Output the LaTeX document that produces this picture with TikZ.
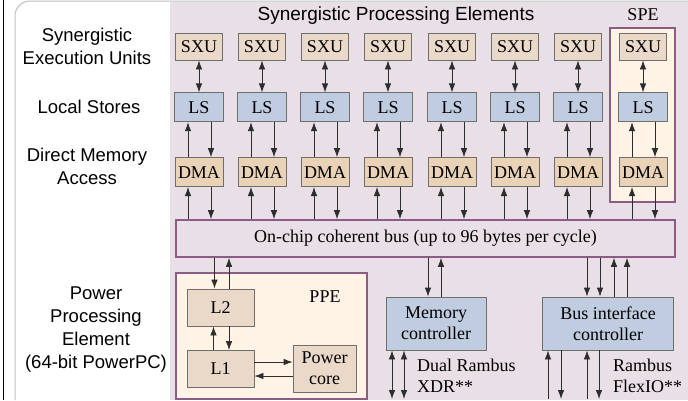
\documentclass[tikz,border=0pt]{standalone}
\usepackage{fontspec}
\setmainfont{Liberation Serif}
\setsansfont{Liberation Sans}
\usepackage{tikz}
\usetikzlibrary{arrows.meta, positioning}

\definecolor{bgpink}{RGB}{233,223,231}
\definecolor{cream}{RGB}{254,243,228}
\definecolor{frameplum}{RGB}{140,92,132}
\definecolor{boxgray}{RGB}{110,110,110}
\definecolor{linegray}{RGB}{45,45,45}
\definecolor{sxutan}{RGB}{234,216,200}
\definecolor{dmatan}{RGB}{233,210,182}
\definecolor{lsblue}{RGB}{192,204,224}

\newcommand\boxfont{\fontsize{18}{21}\selectfont}
\newcommand\sidefont{\sffamily\fontsize{18.5}{23}\selectfont}

\tikzset{
  unit/.style={draw=boxgray, rectangle, line width=0.8pt, font=\boxfont, inner sep=0pt},
  sxubox/.style={unit, fill=sxutan, minimum width=47pt, minimum height=27pt},
  lsbox/.style={unit, fill=lsblue, minimum width=49pt, minimum height=29pt},
  dmabox/.style={unit, fill=dmatan, minimum width=48pt, minimum height=29pt},
  ctrlbox/.style={unit, fill=lsblue, minimum height=53pt, align=center},
  cachebox/.style={unit, fill=sxutan, align=center},
  plumbox/.style={draw=frameplum, line width=1.6pt, rectangle, inner sep=0pt},
  arr/.style={-{Latex[length=9pt,width=6.5pt]}, line width=0.8pt, draw=linegray},
  darr/.style={{Latex[length=9pt,width=6.5pt]}-{Latex[length=9pt,width=6.5pt]}, line width=0.8pt, draw=linegray},
  side/.style={font=\sidefont, align=center},
  note/.style={font=\boxfont, align=left, anchor=west, inner sep=0pt}
}

\begin{document}
\begin{tikzpicture}[x=1pt, y=-1pt]
        \useasboundingbox (0,0) rectangle (688,400);
        % background and frame
        \fill[white] (0,0) rectangle (688,400);
        \fill[bgpink] (170,2) rectangle (688,400);
        \draw[black!25, line width=1pt, rounded corners=15pt] (15,400) -- (15,1) -- (688,1);
        \draw[line width=1.5pt] (3.5,0) -- (3.5,400);
        \coordinate (floor) at (0,399);

        % highlighted SPE and PPE frames
        \node (spe) [plumbox, fill=cream, minimum width=65pt, minimum height=174pt] at (642.5,115) {};
        \node (spelabel) [font=\boxfont] at (643,15) {SPE};
        \node (ppe) [plumbox, fill=cream, minimum width=191pt, minimum height=126pt] at (271.5,336) {};
        \node (ppelabel) [font=\boxfont] at (325,297) {PPE};

        \node (title) [font=\sffamily\fontsize{19}{23}\selectfont] at (396,16) {Synergistic Processing Elements};

        % side labels
        \node (sxulabel) [side] at (87,46.5) {Synergistic\\Execution Units};
        \node (lslabel) [side] at (89,106.5) {Local Stores};
        \node (dmalabel) [side] at (87,166.5) {Direct Memory\\Access};
        \node (ppeside) [side] at (96,329.5) {Power\\Processing\\Element\\(64-bit PowerPC)};

        % eight SPE columns
        \foreach \i/\x in {1/199,2/262,3/325,4/388,5/452,6/515,7/578,8/643} {
            \node (sxu\i) [sxubox] at (\x,46.5) {SXU};
            \node (ls\i) [lsbox, below=32pt of sxu\i] {LS};
            \node (dma\i) [dmabox, below=35pt of ls\i] {DMA};
        }

        \node (bus) [plumbox, fill=bgpink, minimum width=499pt, minimum height=37pt, font=\boxfont] at (425.5,238.5) {On-chip coherent bus (up to 96 bytes per cycle)};

        \foreach \i in {1,...,8} {
            \draw[darr] (sxu\i) -- (ls\i);
            \draw[arr] ([xshift=-11pt]dma\i.north) -- ([xshift=-11pt]ls\i.south);
            \draw[arr] ([xshift=12pt]ls\i.south) -- ([xshift=12pt]dma\i.north);
            \draw[arr] ([xshift=-11pt]dma\i.south |- bus.north) -- ([xshift=-11pt]dma\i.south);
            \draw[arr] ([xshift=12pt]dma\i.south) -- ([xshift=12pt]dma\i.south |- bus.north);
        }

        % PPE internals
        \node (l2) [cachebox, minimum width=67pt, minimum height=37pt] at (220.5,307.5) {L2};
        \node (l1) [cachebox, minimum width=67pt, minimum height=37pt] at (220.5,369) {L1};
        \node (core) [cachebox, minimum width=63pt, minimum height=47pt] at (324.5,368.5) {Power\\core};

        \draw[arr] ([xshift=-6pt]l2.north |- bus.south) -- ([xshift=-6pt]l2.north);
        \draw[arr] ([xshift=8.5pt]l2.north) -- ([xshift=8.5pt]l2.north |- bus.south);
        \draw[arr] ([xshift=-7pt]l1.north) -- ([xshift=-7pt]l2.south);
        \draw[arr] ([xshift=8.5pt]l2.south) -- ([xshift=8.5pt]l1.north);
        \draw[arr] ([yshift=7pt]l1.east) -- ([yshift=7pt]l1.east -| core.west);
        \draw[arr] ([yshift=-7pt]l1.east -| core.west) -- ([yshift=-7pt]l1.east);

        % controllers
        \node (mc) [ctrlbox, minimum width=100pt] at (436,323.5) {Memory\\controller};
        \node (bic) [ctrlbox, minimum width=131pt] at (608,323.5) {Bus interface\\controller};

        \draw[arr] ([xshift=-8pt]mc.north |- bus.south) -- ([xshift=-8pt]mc.north);
        \draw[arr] ([xshift=5pt]mc.north) -- ([xshift=5pt]mc.north |- bus.south);
        \draw[darr] ([xshift=-44pt]mc.south) -- ([xshift=-44pt]mc.south |- floor);
        \draw[darr] ([xshift=-32pt]mc.south) -- ([xshift=-32pt]mc.south |- floor);
        \node (xdr) [note] at (417,375.5) {Dual Rambus\\XDR**};

        \draw[arr] ([xshift=-21pt]bic.north |- bus.south) -- ([xshift=-21pt]bic.north);
        \draw[arr] ([xshift=-8pt]bic.north |- bus.south) -- ([xshift=-8pt]bic.north);
        \draw[arr] ([xshift=6pt]bic.north) -- ([xshift=6pt]bic.north |- bus.south);
        \draw[arr] ([xshift=19pt]bic.north) -- ([xshift=19pt]bic.north |- bus.south);
        \draw[arr] ([xshift=-60pt]bic.south |- floor) -- ([xshift=-60pt]bic.south);
        \draw[arr] ([xshift=-47pt]bic.south) -- ([xshift=-47pt]bic.south |- floor);
        \draw[arr] ([xshift=-21pt]bic.south |- floor) -- ([xshift=-21pt]bic.south);
        \draw[arr] ([xshift=-9pt]bic.south) -- ([xshift=-9pt]bic.south |- floor);
        \node (flexio) [note] at (613,375.5) {Rambus\\FlexIO**};
    \end{tikzpicture}
\end{document}
